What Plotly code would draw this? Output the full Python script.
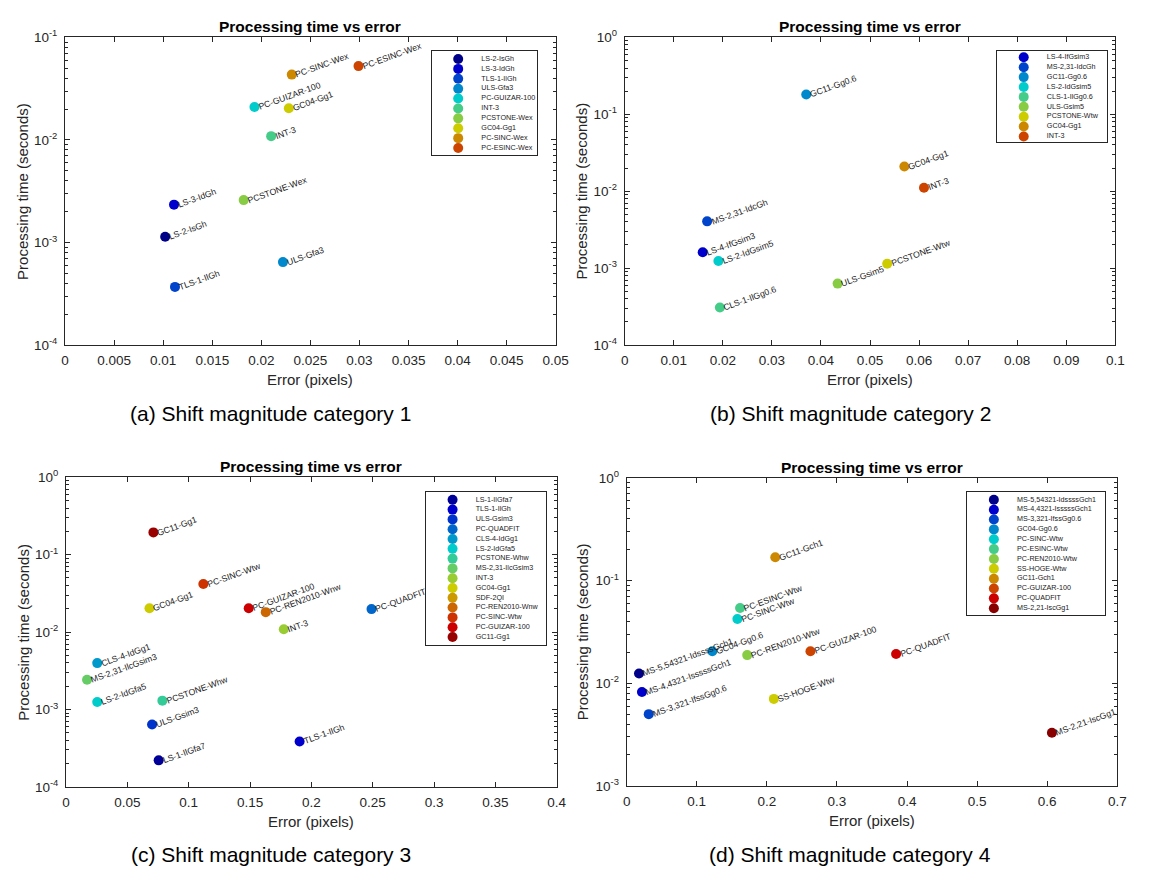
import math
import plotly.graph_objects as go

FIG_W, FIG_H = 1151, 884
FONT = "Liberation Sans, Arial, Helvetica, sans-serif"
INK = "#262626"

# ---------------- data ----------------
# (a) Shift magnitude category 1
a_names = ["LS-2-IsGh", "LS-3-IdGh", "TLS-1-IlGh", "ULS-Gfa3", "PC-GUIZAR-100",
           "INT-3", "PCSTONE-Wex", "GC04-Gg1", "PC-SINC-Wex", "PC-ESINC-Wex"]
a_err = [0.0102, 0.0111, 0.0112, 0.0222, 0.0193, 0.0210, 0.0182, 0.0228, 0.0231, 0.0299]
a_time = [0.00114, 0.00234, 0.000369, 0.000644, 0.0210, 0.0109, 0.00259, 0.0204, 0.0434, 0.0525]
a_colors = ["#000088", "#0000CC", "#0044CC", "#0088CC", "#00CCCC",
            "#44CC88", "#88CC44", "#CCCC00", "#CC8800", "#CC4400"]

# (b) Shift magnitude category 2
b_names = ["LS-4-IfGsim3", "MS-2,31-IdcGh", "GC11-Gg0.6", "LS-2-IdGsim5", "CLS-1-IlGg0.6",
           "ULS-Gsim5", "PCSTONE-Wtw", "GC04-Gg1", "INT-3"]
b_err = [0.0159, 0.0168, 0.0370, 0.0191, 0.0194, 0.0434, 0.0535, 0.0570, 0.0610]
b_time = [0.00161, 0.00406, 0.181, 0.00124, 0.000308, 0.000629, 0.00114, 0.0210, 0.0111]
b_colors = ["#0000CC", "#0044CC", "#0088CC", "#00CCCC", "#44CC88",
            "#88CC44", "#CCCC00", "#CC8800", "#CC4400"]

# (c) Shift magnitude category 3
c_names = ["LS-1-IlGfa7", "TLS-1-IlGh", "ULS-Gsim3", "PC-QUADFIT", "CLS-4-IdGg1",
           "LS-2-IdGfa5", "PCSTONE-Whw", "MS-2,31-IlcGsim3", "INT-3", "GC04-Gg1",
           "SDF-2QI", "PC-REN2010-Wnw", "PC-SINC-Wtw", "PC-GUIZAR-100", "GC11-Gg1"]
c_err = [0.0755, 0.1904, 0.0701, 0.249, 0.0254, 0.0254, 0.0785, 0.0171, 0.1775, 0.0680,
         None, 0.1628, 0.1119, 0.1489, 0.0712]
c_time = [0.00022, 0.000386, 0.00064, 0.0198, 0.00397, 0.00125, 0.00130, 0.00242, 0.0109, 0.0203,
          None, 0.0181, 0.0417, 0.0203, 0.194]
c_colors = ["#000099", "#0000CC", "#0033CC", "#0066CC", "#0099CC", "#00CCCC", "#33CC99",
            "#66CC66", "#99CC33", "#CCCC00", "#CC9900", "#CC6600", "#CC3300", "#CC0000", "#990000"]

# (d) Shift magnitude category 4
d_names = ["MS-5,54321-IdssssGch1", "MS-4,4321-IsssssGch1", "MS-3,321-IfssGg0.6", "GC04-Gg0.6",
           "PC-SINC-Wtw", "PC-ESINC-Wtw", "PC-REN2010-Wtw", "SS-HOGE-Wtw", "GC11-Gch1",
           "PC-GUIZAR-100", "PC-QUADFIT", "MS-2,21-IscGg1"]
d_err = [0.0176, 0.0218, 0.0315, 0.1222, 0.158, 0.1618, 0.172, 0.210, 0.212, 0.2622, 0.3844, 0.6067]
d_time = [0.01245, 0.0082, 0.0050, 0.0205, 0.0422, 0.0541, 0.0188, 0.00704, 0.169, 0.0205, 0.0193, 0.00329]
d_colors = ["#000088", "#0000CC", "#0044CC", "#0088CC", "#00CCCC", "#44CC88",
            "#88CC44", "#CCCC00", "#CC8800", "#CC4400", "#CC0000", "#880000"]

captions = ["(a) Shift magnitude category 1", "(b) Shift magnitude category 2",
            "(c) Shift magnitude category 3", "(d) Shift magnitude category 4"]
panel_title = "Processing time vs error"
x_title = "Error (pixels)"
y_title = "Processing time (seconds)"

# ---------------- layout geometry (pixels) ----------------
panels = [
    dict(names=a_names, err=a_err, time=a_time, colors=a_colors, xr=[0, 0.05], dx=0.005, yr=[-4, -1],
         box=(62, 28, 560, 342), leg=(434, 42.3, 541, 147.7), leg_off=7.7, leg_sp=10.1, cap_x=270, cap_y=412),
    dict(names=b_names, err=b_err, time=b_time, colors=b_colors, xr=[0, 0.1], dx=0.01, yr=[-4, 0],
         box=(630, 28, 1128, 342), leg=(1008, 42.3, 1120, 135), leg_off=6.0, leg_sp=10.1, cap_x=859, cap_y=412),
    dict(names=c_names, err=c_err, time=c_time, colors=c_colors, xr=[0, 0.4], dx=0.05, yr=[-4, 0],
         box=(63, 477, 561, 793), leg=(428.3, 491.7, 550, 648), leg_off=8.3, leg_sp=10.0, cap_x=271, cap_y=862),
    dict(names=d_names, err=d_err, time=d_time, colors=d_colors, xr=[0, 0.7], dx=0.1, yr=[-3, 0],
         box=(632, 477.7, 1130, 792), leg=(977.7, 492, 1117.3, 617.7), leg_off=8.0, leg_sp=10.06, cap_x=859, cap_y=862),
]
LEG_MX = 27.0   # marker x inside legend box
LEG_TX = 50.5   # text x inside legend box

fig = go.Figure()
layout = dict(width=FIG_W, height=FIG_H, margin=dict(l=0, r=0, t=0, b=0), autosize=False,
              paper_bgcolor="white", plot_bgcolor="white", showlegend=False, hovermode=False,
              font=dict(family=FONT, color=INK))
annotations = []


def ax_id(k):
    return ("x" if k == 1 else f"x{k}"), ("y" if k == 1 else f"y{k}")


def ax_key(k):
    return ("xaxis" if k == 1 else f"xaxis{k}"), ("yaxis" if k == 1 else f"yaxis{k}")


for i, p in enumerate(panels):
    k = i + 1
    xa, ya = ax_id(k)
    xk, yk = ax_key(k)
    L, T, R, B = p["box"]
    e0, e1 = p["yr"]
    major = [10.0 ** e for e in range(e0, e1 + 1)]
    minor = [m * 10.0 ** e for e in range(e0, e1) for m in range(2, 10)]
    common = dict(showgrid=False, zeroline=False, showline=True, linecolor=INK, linewidth=1,
                  mirror="ticks", ticks="inside", ticklen=5, tickwidth=1, tickcolor=INK,
                  tickfont=dict(family=FONT, size=13.5, color=INK), fixedrange=True)
    layout[xk] = dict(domain=[L / FIG_W, R / FIG_W], range=p["xr"], tick0=0, dtick=p["dx"],
                      anchor=ya, ticklabelstandoff=3, **common)
    layout[yk] = dict(domain=[1 - B / FIG_H, 1 - T / FIG_H], type="log", range=[e0, e1],
                      tickvals=major, ticktext=[f"10<sup>{e}</sup>" for e in range(e0, e1 + 1)],
                      minor=dict(tickvals=minor, ticks="inside", ticklen=3, tickcolor=INK, tickwidth=1),
                      anchor=xa, ticklabelstandoff=4, **common)

    fig.add_trace(go.Scatter(x=p["err"], y=p["time"], mode="markers", xaxis=xa, yaxis=ya,
                             marker=dict(color=p["colors"], size=10, line=dict(width=0)),
                             hoverinfo="skip"))
    for n, e, t in zip(p["names"], p["err"], p["time"]):
        if e is None or t is None:
            continue
        annotations.append(dict(x=e, y=math.log10(t), xref=xa, yref=ya, text=n, showarrow=False,
                                textangle=-20, xanchor="left", yanchor="bottom", xshift=2.5, yshift=-5,
                                borderpad=0, borderwidth=0,
                                font=dict(family=FONT, size=8.7, color="#1a1a1a")))

    cx = (L + R) / 2
    annotations.append(dict(x=cx / FIG_W, y=1 - (T - 11) / FIG_H, xref="paper", yref="paper",
                            text=f"<b>{panel_title}</b>", showarrow=False, xanchor="center", yanchor="middle",
                            font=dict(family=FONT, size=15.5, color="black")))
    annotations.append(dict(x=cx / FIG_W, y=1 - (B + 35) / FIG_H, xref="paper", yref="paper",
                            text=x_title, showarrow=False, xanchor="center", yanchor="middle",
                            font=dict(family=FONT, size=15, color=INK)))
    annotations.append(dict(x=(L - 44) / FIG_W, y=1 - ((T + B) / 2) / FIG_H, xref="paper", yref="paper",
                            text=y_title, showarrow=False, textangle=-90, xanchor="center", yanchor="middle",
                            font=dict(family=FONT, size=15, color=INK)))
    annotations.append(dict(x=p["cap_x"] / FIG_W, y=1 - p["cap_y"] / FIG_H, xref="paper", yref="paper",
                            text=captions[i], showarrow=False, xanchor="center", yanchor="middle",
                            font=dict(family=FONT, size=21, color="black")))

    # legend box as its own small axes
    kl = k + 4
    lxa, lya = ax_id(kl)
    lxk, lyk = ax_key(kl)
    lL, lT, lR, lB = p["leg"]
    n_items = len(p["names"])
    off, sp = p["leg_off"], p["leg_sp"]
    lax = dict(showgrid=False, zeroline=False, showline=True, linecolor=INK, linewidth=1, mirror=True,
               ticks="", showticklabels=False, fixedrange=True)
    layout[lxk] = dict(domain=[lL / FIG_W, lR / FIG_W], range=[0, lR - lL], anchor=lya, **lax)
    layout[lyk] = dict(domain=[1 - lB / FIG_H, 1 - lT / FIG_H],
                       range=[(lB - lT - off) / sp, -off / sp], anchor=lxa, **lax)
    idx = list(range(n_items))
    fig.add_trace(go.Scatter(x=[LEG_MX] * n_items, y=idx, mode="markers", xaxis=lxa, yaxis=lya,
                             marker=dict(color=p["colors"], size=10, line=dict(width=0)),
                             hoverinfo="skip", cliponaxis=False))
    fig.add_trace(go.Scatter(x=[LEG_TX] * n_items, y=idx, mode="text", xaxis=lxa, yaxis=lya,
                             text=p["names"], textposition="middle right",
                             textfont=dict(family=FONT, size=7.2, color="#1a1a1a"),
                             hoverinfo="skip", cliponaxis=False))

layout["annotations"] = annotations
fig.update_layout(**layout)
fig.write_html("out.html")
